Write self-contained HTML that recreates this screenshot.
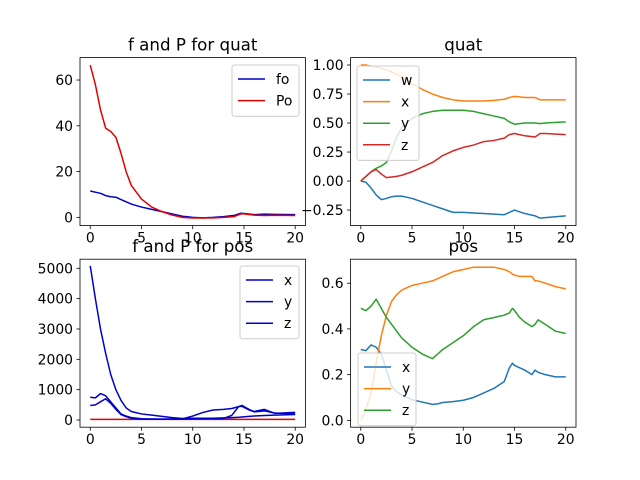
<!DOCTYPE html>
<html><head><meta charset="utf-8"><style>
body{margin:0;background:#fff}
svg{display:block;font-family:"DejaVu Sans","Liberation Sans",sans-serif}
</style></head><body>
<svg id="fig" width="640" height="480"></svg>
<script>
// ---- data ----
const fqT=[0,0.5,1,1.5,2,2.5,3,3.5,4,5,6,7,8,9,10,11,12,13,14,14.7,15,16,17,18,20];
const foVals=[11.5,11,10.5,9.5,9,8.8,7.8,6.8,5.8,4.5,3.5,2.5,1.5,0.5,0,-0.2,0,0.3,0.8,1.8,1.7,1.2,1.4,1.3,1.2];
const poVals=[66.5,58,47,39,37.5,35,28,20,14,8,4.5,2.5,1,0,-0.3,-0.3,-0.2,0,0.3,1.5,1.5,1,0.8,0.9,0.8];

const qT=[0,0.5,1,1.5,2,2.5,3,3.5,4,5,6,7,8,9,10,11,12,13,14,14.5,15,16,17,17.5,18,20];
const qw=[0,-0.01,-0.06,-0.12,-0.16,-0.15,-0.135,-0.13,-0.13,-0.15,-0.18,-0.21,-0.24,-0.27,-0.27,-0.275,-0.28,-0.285,-0.29,-0.27,-0.25,-0.28,-0.3,-0.32,-0.315,-0.3];
const qx=[1.0,1.0,0.99,0.985,0.97,0.96,0.94,0.92,0.9,0.84,0.79,0.75,0.72,0.7,0.69,0.69,0.69,0.695,0.705,0.72,0.73,0.72,0.72,0.7,0.7,0.7];
const qy=[0,0.04,0.08,0.11,0.13,0.16,0.26,0.38,0.46,0.54,0.58,0.6,0.61,0.61,0.61,0.6,0.58,0.56,0.54,0.51,0.49,0.5,0.5,0.495,0.5,0.51];
const qz=[0,0.04,0.08,0.1,0.06,0.03,0.035,0.04,0.05,0.08,0.12,0.16,0.22,0.26,0.29,0.31,0.34,0.35,0.37,0.4,0.41,0.39,0.38,0.41,0.41,0.4];

const fpT=[0,0.5,1,1.5,2,2.5,3,3.5,4,5,6,7,8,9,10,11,12,13,13.8,14.5,14.8,15.5,16,17,18,20];
const fpX=[5080,4000,3000,2200,1500,1000,650,400,280,200,160,120,80,50,60,60,60,70,80,90,100,120,130,150,160,180];
const fpY=[750,730,870,800,600,400,200,130,80,40,35,30,35,40,130,250,330,350,380,440,480,350,270,300,230,200];
const fpZ=[480,500,600,700,550,350,180,110,60,30,30,30,30,30,40,45,50,50,150,450,450,330,280,350,220,250];
const fpR=[20,20,20,20,20,20,20,20,20,20,20,20,20,20,20,20,20,20,20,20,20,20,20,20,20,20];

const pT=[0,0.5,1,1.5,2,2.5,3,3.5,4,5,6,7,7.5,8,9,10,11,12,13,14,14.5,14.8,15,15.5,16,16.7,17,17.3,18,19,20];
const px=[0.31,0.305,0.33,0.32,0.29,0.22,0.15,0.125,0.11,0.09,0.08,0.07,0.072,0.078,0.082,0.088,0.1,0.12,0.14,0.17,0.23,0.25,0.24,0.23,0.22,0.2,0.22,0.21,0.2,0.19,0.19];
const py=[0,0.05,0.12,0.25,0.37,0.46,0.52,0.55,0.57,0.59,0.6,0.61,0.62,0.63,0.65,0.66,0.67,0.67,0.67,0.66,0.65,0.64,0.635,0.63,0.63,0.63,0.61,0.61,0.6,0.585,0.575];
const pz=[0.49,0.48,0.5,0.53,0.49,0.45,0.42,0.39,0.36,0.32,0.29,0.27,0.29,0.31,0.34,0.37,0.41,0.44,0.45,0.46,0.47,0.49,0.48,0.45,0.43,0.41,0.42,0.44,0.42,0.39,0.38];

const xTicks=[0,5,10,15,20];
const tick1=[0,20,40,60];
const tick2=[-0.25,0,0.25,0.5,0.75,1.0];
const tick2Labels=["\u22120.25","0.00","0.25","0.50","0.75","1.00"];
const tick3=[0,1000,2000,3000,4000,5000];
const tick4=[0,0.2,0.4,0.6];
const tick4Labels=["0.0","0.2","0.4","0.6"];

const NS="http://www.w3.org/2000/svg";
const svg=document.getElementById('fig');
function el(tag,attrs,parent){const e=document.createElementNS(NS,tag);for(const k in attrs)e.setAttribute(k,attrs[k]);(parent||svg).appendChild(e);return e;}

function panel(o){
  const g=el('g',{});
  
  
  const sx=v=>o.x0+(v-o.xmin)/(o.xmax-o.xmin)*o.w;
  const sy=v=>o.y0+o.h-(v-o.ymin)/(o.ymax-o.ymin)*o.h;
  // series (drawn first, clipped)
  const cid='c'+o.name;
  const cp=el('clipPath',{id:cid},g);el('rect',{x:o.x0,y:o.y0,width:o.w,height:o.h},cp);
  o.series.forEach(s=>{
    const d=s.v.map((v,i)=>(i?'L':'M')+sx(s.t[i]).toFixed(2)+','+sy(v).toFixed(2)).join('');
    const p=el('path',{d:d,fill:'none',stroke:s.c,'stroke-width':1.5,'clip-path':'url(#'+cid+')','stroke-linejoin':'round'},g);
    
    
  });
  const fr=el('rect',{x:o.x0,y:o.y0,width:o.w,height:o.h,fill:'none',stroke:'#000','stroke-width':0.8},g);
  
  
  xTicks.forEach(t=>{
    const X=sx(t);
    el('line',{x1:X,x2:X,y1:o.y0+o.h,y2:o.y0+o.h+3.5,stroke:'#000','stroke-width':0.8},g);
    const tx=el('text',{x:X,y:o.y0+o.h+17,'font-size':13.9,'text-anchor':'middle'},g);
    tx.textContent=t;
    
    
  });
  o.yt.forEach((t,i)=>{
    const Y=sy(t);
    el('line',{x1:o.x0-3.5,x2:o.x0,y1:Y,y2:Y,stroke:'#000','stroke-width':0.8},g);
    const tx=el('text',{x:o.x0-7,y:Y+5,'font-size':13.9,'text-anchor':'end'},g);
    tx.textContent=o.ytl?o.ytl[i]:t;
    
    
  });
  const ti=el('text',{x:o.x0+o.w/2,y:o.y0-7,'font-size':16.7,'text-anchor':'middle'},g);
  ti.textContent=o.title;
  
  
  // legend
  const L=o.leg;
  const lg=el('g',{},g);
  
  
  el('rect',{x:L.x,y:L.y,width:L.w,height:o.series.filter(s=>s.lg).length*21.6+8,fill:'#fff','fill-opacity':0.8,stroke:'#ccc',rx:2.5},lg);
  let k=0;
  o.series.forEach(s=>{ if(!s.lg)return;
    const yy=L.y+14+k*21.6;
    el('line',{x1:L.x+6,x2:L.x+33,y1:yy,y2:yy,stroke:s.c,'stroke-width':1.5},lg);
    const t=el('text',{x:L.x+44,y:yy+5,'font-size':13.9},lg);t.textContent=s.lg;
    
    
    k++;
  });
}
const W=225.45,H=168;
panel({name:'fp-quat',x0:80,y0:57.6,w:W,h:H,xmin:-1,xmax:21,ymin:-3.6,ymax:69.8,yt:tick1,title:'f and P for quat',
  leg:{x:232,y:65,w:67},
  series:[{n:'fo',t:fqT,v:foVals,c:'#0000cc',lg:'fo'},{n:'po',t:fqT,v:poVals,c:'#e00000',lg:'Po'}]});
panel({name:'quat',x0:350.55,y0:57.6,w:W,h:H,xmin:-1,xmax:21,ymin:-0.384,ymax:1.064,yt:tick2,ytl:tick2Labels,title:'quat',
  leg:{x:357,y:66,w:62},
  series:[{n:'w',t:qT,v:qw,c:'#1f77b4',lg:'w'},{n:'x',t:qT,v:qx,c:'#ff7f0e',lg:'x'},{n:'y',t:qT,v:qy,c:'#2ca02c',lg:'y'},{n:'z',t:qT,v:qz,c:'#d62728',lg:'z'}]});
panel({name:'fp-pos',x0:80,y0:259.2,w:W,h:H,xmin:-1,xmax:21,ymin:-237,ymax:5300,yt:tick3,title:'f and P for pos',
  leg:{x:240,y:266,w:59},
  series:[{n:'pr',t:fpT,v:fpR,c:'#e00000'},{n:'x',t:fpT,v:fpX,c:'#0000cc',lg:'x'},{n:'y',t:fpT,v:fpY,c:'#0000cc',lg:'y'},{n:'z',t:fpT,v:fpZ,c:'#0000cc',lg:'z'}]});
panel({name:'pos',x0:350.55,y0:259.2,w:W,h:H,xmin:-1,xmax:21,ymin:-0.030,ymax:0.705,yt:tick4,ytl:tick4Labels,title:'pos',
  leg:{x:358,y:353,w:58},
  series:[{n:'x',t:pT,v:px,c:'#1f77b4',lg:'x'},{n:'y',t:pT,v:py,c:'#ff7f0e',lg:'y'},{n:'z',t:pT,v:pz,c:'#2ca02c',lg:'z'}]});
</script>
</body></html>
